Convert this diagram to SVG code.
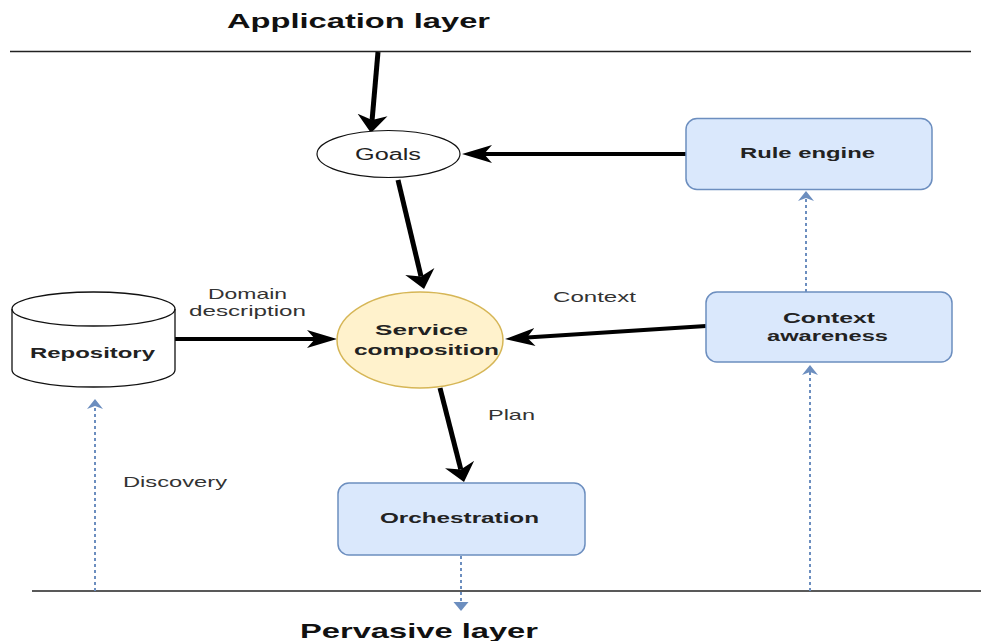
<svg xmlns="http://www.w3.org/2000/svg" width="981" height="641" viewBox="0 0 981 641">
  <style>
    .layer { stroke: #222; stroke-width: 1.3; fill: none; }
    .title { font-family: "Liberation Sans", Arial, sans-serif; font-weight: bold; font-size: 21px; fill: #111; }
    .node-txt { font-family: "Liberation Sans", Arial, sans-serif; font-weight: bold; font-size: 15px; fill: #222; }
    .plain-txt { font-family: "Liberation Sans", Arial, sans-serif; font-size: 16px; fill: #222; }
    .lbl { font-family: "Liberation Sans", Arial, sans-serif; font-size: 14.5px; fill: #333; }
    .box { fill: #dae8fc; stroke: #6c8ebf; stroke-width: 1.5; }
    .flow-h { stroke: #000; stroke-width: 4; fill: none; }
    .flow-v { stroke: #000; stroke-width: 5; fill: none; }
    .dotted { stroke: #6c8ebf; stroke-width: 2; stroke-dasharray: 3 3; fill: none; }
  </style>
  <defs>
    <!-- notched arrowhead for mostly horizontal flows -->
    <marker id="arrowH" markerUnits="userSpaceOnUse" markerWidth="32" markerHeight="20" viewBox="0 -10 32 20" refX="8" refY="0" orient="auto">
      <path d="M0,-9 L30,0 L0,9 L8,0 Z" fill="#000"/>
    </marker>
    <!-- notched arrowhead for mostly vertical flows -->
    <marker id="arrowV" markerUnits="userSpaceOnUse" markerWidth="20" markerHeight="32" viewBox="0 -16 20 32" refX="5" refY="0" orient="auto">
      <path d="M0,-15 L18,0 L0,15 L5,0 Z" fill="#000"/>
    </marker>
    <!-- small blue arrowheads for dotted links -->
    <marker id="arrowBlue" markerUnits="userSpaceOnUse" markerWidth="12" markerHeight="18" viewBox="0 -9 12 18" refX="3" refY="0" orient="auto">
      <path d="M0,-8 L10,0 L0,8 L3,0 Z" fill="#6c8ebf"/>
    </marker>
    <marker id="arrowBlueBlock" markerUnits="userSpaceOnUse" markerWidth="12" markerHeight="18" viewBox="0 -9 12 18" refX="1" refY="0" orient="auto">
      <path d="M0,-7.5 L9,0 L0,7.5 Z" fill="#6c8ebf"/>
    </marker>
  </defs>

  <rect x="0" y="0" width="981" height="641" fill="#fff"/>

  <!-- layer boundaries -->
  <g id="layers">
    <line class="layer" x1="10" y1="51.5" x2="971" y2="51.5"/>
    <text class="title" x="227" y="28" textLength="263" lengthAdjust="spacingAndGlyphs">Application layer</text>
    <line class="layer" x1="32" y1="591" x2="981" y2="591"/>
    <text class="title" x="300" y="638" textLength="238" lengthAdjust="spacingAndGlyphs">Pervasive layer</text>
  </g>

  <!-- connectors -->
  <g id="connectors">
    <line class="flow-v" x1="378" y1="52" x2="372.1" y2="120" marker-end="url(#arrowV)"/>
    <line class="flow-h" x1="686" y1="154" x2="484" y2="154" marker-end="url(#arrowH)"/>
    <line class="flow-v" x1="398" y1="180" x2="421" y2="276.4" marker-end="url(#arrowV)"/>
    <line class="flow-h" x1="175" y1="339" x2="315" y2="339" marker-end="url(#arrowH)"/>
    <line class="flow-h" x1="706" y1="326" x2="527" y2="337.6" marker-end="url(#arrowH)"/>
    <line class="flow-v" x1="440" y1="388" x2="460.8" y2="469.4" marker-end="url(#arrowV)"/>

    <line class="dotted" x1="806" y1="292" x2="806" y2="198" marker-end="url(#arrowBlue)"/>
    <line class="dotted" x1="810" y1="591" x2="810" y2="372" marker-end="url(#arrowBlue)"/>
    <line class="dotted" x1="95" y1="591" x2="95" y2="406" marker-end="url(#arrowBlue)"/>
    <line class="dotted" x1="461" y1="556" x2="461" y2="603" marker-end="url(#arrowBlueBlock)"/>

    <text class="lbl" x="208" y="299" textLength="79" lengthAdjust="spacingAndGlyphs">Domain</text>
    <text class="lbl" x="189" y="316" textLength="117" lengthAdjust="spacingAndGlyphs">description</text>
    <text class="lbl" x="553" y="302" textLength="83" lengthAdjust="spacingAndGlyphs">Context</text>
    <text class="lbl" x="488" y="420" textLength="47" lengthAdjust="spacingAndGlyphs">Plan</text>
    <text class="lbl" x="123" y="487" textLength="104" lengthAdjust="spacingAndGlyphs">Discovery</text>
  </g>

  <g id="goals">
    <ellipse cx="388.5" cy="154" rx="71.5" ry="23.5" fill="#fff" stroke="#111" stroke-width="1.2"/>
    <text class="plain-txt" x="355" y="160" textLength="66" lengthAdjust="spacingAndGlyphs">Goals</text>
  </g>

  <g id="rule-engine">
    <rect class="box" x="686" y="118.5" width="246" height="71" rx="11"/>
    <text class="node-txt" x="740" y="158" textLength="135" lengthAdjust="spacingAndGlyphs">Rule engine</text>
  </g>

  <g id="repository">
    <path d="M12,309 A81.5,17 0 0 1 175,309 L175,370 A81.5,17 0 0 1 12,370 Z" fill="#fff" stroke="#111" stroke-width="1.3"/>
    <path d="M12,309 A81.5,17 0 0 0 175,309" fill="none" stroke="#111" stroke-width="1.3"/>
    <text class="node-txt" x="30" y="358" textLength="125" lengthAdjust="spacingAndGlyphs">Repository</text>
  </g>

  <g id="service-composition">
    <ellipse cx="420" cy="340" rx="83" ry="48" fill="#fff2cc" stroke="#d6b656" stroke-width="1.5"/>
    <text class="node-txt" x="375" y="335" textLength="93" lengthAdjust="spacingAndGlyphs">Service</text>
    <text class="node-txt" x="354" y="355" textLength="145" lengthAdjust="spacingAndGlyphs">composition</text>
  </g>

  <g id="context-awareness">
    <rect class="box" x="706" y="292" width="246" height="70" rx="11"/>
    <text class="node-txt" x="783" y="323" textLength="92" lengthAdjust="spacingAndGlyphs">Context</text>
    <text class="node-txt" x="767" y="341" textLength="121" lengthAdjust="spacingAndGlyphs">awareness</text>
  </g>

  <g id="orchestration">
    <rect class="box" x="338" y="483" width="247" height="72" rx="11"/>
    <text class="node-txt" x="380" y="523" textLength="159" lengthAdjust="spacingAndGlyphs">Orchestration</text>
  </g>
</svg>
